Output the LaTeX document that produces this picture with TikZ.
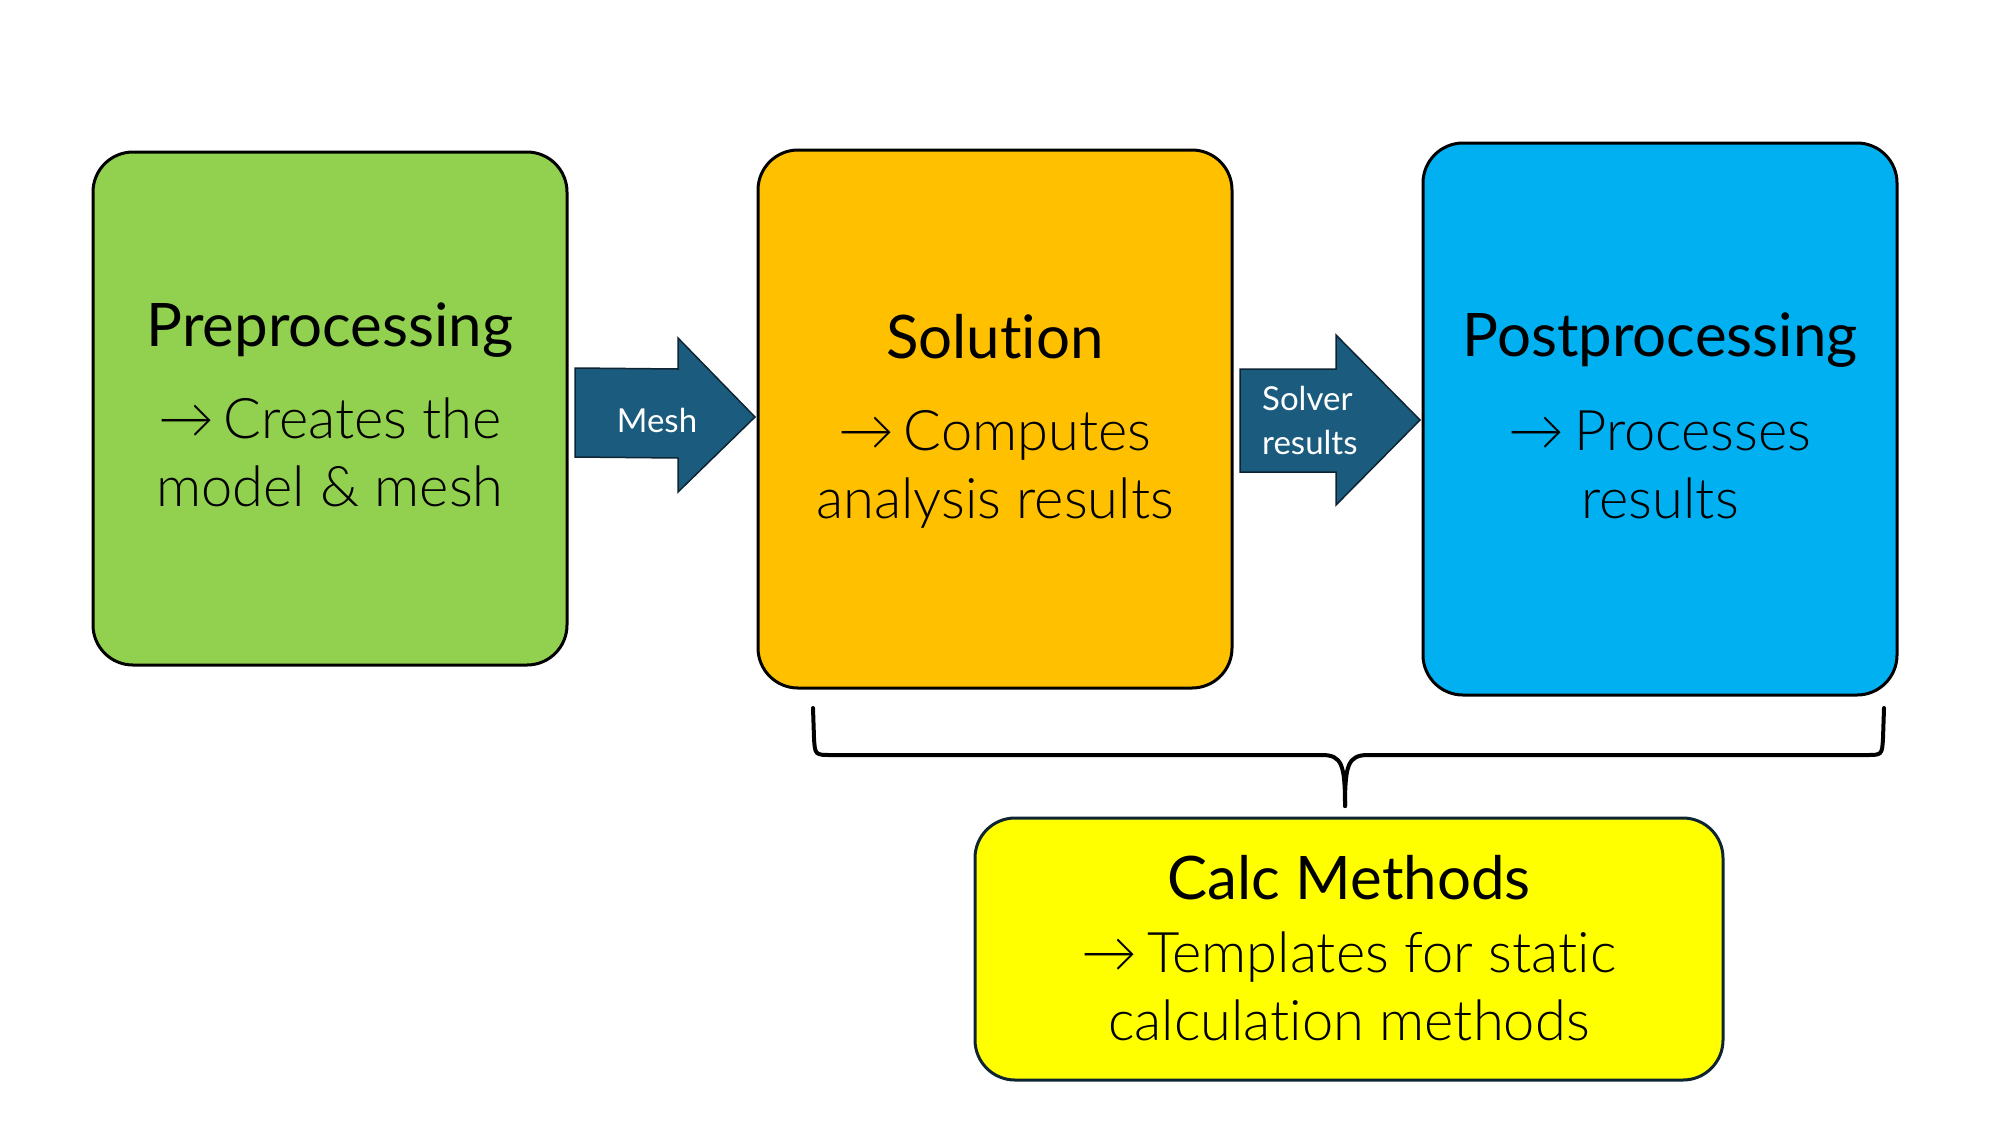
\documentclass[tikz,border=0pt]{standalone}
\usepackage{fontspec}
\setmainfont[Ligatures=NoCommon]{Lato}
\newfontfamily\lightfont[Ligatures=NoCommon]{Lato Light}
\definecolor{cgreen}{HTML}{92D050}
\definecolor{corange}{HTML}{FFC000}
\definecolor{cblue}{HTML}{00B0F0}
\definecolor{cyellow}{HTML}{FFFF00}
\definecolor{carrow}{HTML}{1B5C7E}
\definecolor{cdark}{HTML}{0E2433}
\begin{document}
\begin{tikzpicture}[x=1pt,y=-1pt,
  stagebox/.style={draw=black,line width=3pt,rounded corners=40pt},
  titletext/.style={font=\fontsize{60}{70}\selectfont,text=black,inner sep=0pt},
  bodytext/.style={font=\lightfont\fontsize{56}{68}\selectfont,text=black,inner sep=0pt,align=center},
  arrowtext/.style={font=\fontsize{33}{44}\selectfont,text=white,inner sep=0pt},
  blockarrow/.style={fill=carrow,draw=cdark,line width=1.5pt,line join=miter},
  bracestyle/.style={draw=black,line width=4pt,line cap=round,line join=round}]
\useasboundingbox (0,0) rectangle (1999,1125);
% boxes
\filldraw[stagebox,fill=cgreen] (93,152) rectangle (567,665);
\filldraw[stagebox,fill=corange] (758,150) rectangle (1232,688);
\filldraw[stagebox,fill=cblue] (1423,143) rectangle (1897,695);
\filldraw[stagebox,fill=cyellow,draw=cdark] (975,818) rectangle (1723,1080);
\node[titletext] (pretitle) at (330,330) {Preprocessing};
\node[bodytext] (prebody) at (330,452) {\textrightarrow\,Creates the\\model \& mesh};
\node[titletext] (soltitle) at (995,337) {Solution};
\node[bodytext] (solbody) at (995,469) {\textrightarrow\,Computes\\analysis results};
\node[titletext] (posttitle) at (1660,340) {Postprocessing};
\node[bodytext] (postbody) at (1660,465) {\textrightarrow\,Processes\\results};
\node[titletext] (calctitle) at (1349,878) {Calc Methods};
\node[bodytext] (calcbody) at (1349,986) {\textrightarrow\,Templates for static\\calculation methods};
% block arrows
\draw[blockarrow] (575,368) -- (678,369) -- (678,338) -- (755,417) -- (678,492) -- (678,458) -- (575,457) -- cycle;
\node[arrowtext] (meshlabel) at (657,420) {Mesh};
\draw[blockarrow] (1240,369) -- (1336,369) -- (1336,335) -- (1420,420) -- (1336,505) -- (1336,472) -- (1240,472) -- cycle;
\node[arrowtext,anchor=west,align=left] (solverlabel) at (1262,420) {Solver\\results};
% brace
\draw[bracestyle] (813,708) -- (814,738) .. controls (815,755) .. (832,755) -- (1322,755) .. controls (1342,755) and (1345,765) .. (1345,806);
\draw[bracestyle] (1884,708) -- (1883,738) .. controls (1882,755) .. (1866,755) -- (1368,755) .. controls (1348,755) and (1345,765) .. (1345,806);
\end{tikzpicture}
\end{document}
